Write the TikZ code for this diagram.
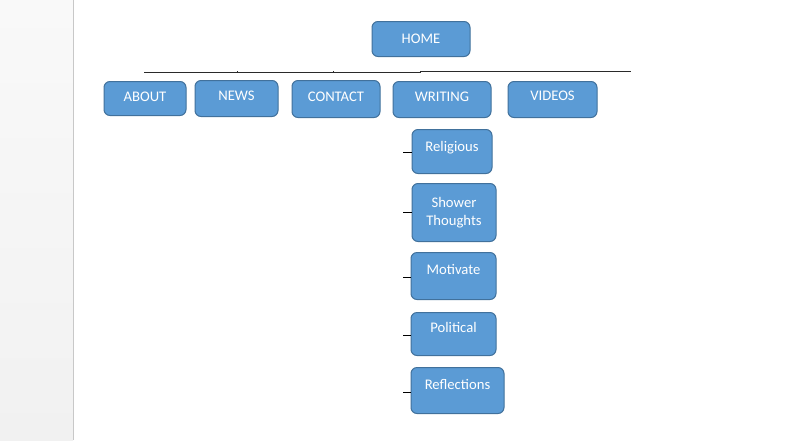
\documentclass[tikz,border=0pt]{standalone}
\usepackage{fontspec}
\setmainfont{Carlito}
\definecolor{boxfill}{HTML}{5B9BD5}
\definecolor{boxline}{HTML}{41719C}
\definecolor{busline}{HTML}{2A2A2A}
\definecolor{stripTop}{HTML}{F9F9F9}
\definecolor{stripBot}{HTML}{F1F1F1}
\definecolor{stripEdge}{HTML}{C8C8C8}
\tikzset{
  bx/.style={draw=boxline, fill=boxfill, line width=0.75pt, rounded corners=4.5pt,
    text=white, inner sep=0pt, align=center, anchor=north,
    font=\fontsize{11pt}{13.5pt}\selectfont},
  sz/.style n args={3}{minimum width=#1pt, text height=#2pt, text depth=#3pt},
  bus/.style={draw=busline, line width=0.75pt},
  stub/.style={draw=black, line width=0.75pt}
}
\begin{document}
\begin{tikzpicture}[x=0.75pt, y=-0.75pt]
\useasboundingbox (0,0) rectangle (803,440);
\fill[white] (0,0) rectangle (803,440);
\shade[top color=stripTop, bottom color=stripBot] (0,0) rectangle (73,440);
\draw[stripEdge, line width=0.75pt] (73.5,0) -- (73.5,440);

% top level
\node[bx, sz={73.5}{16.275}{9.975}] (home) at (421,21) {HOME};

% second level
\node[bx, sz={61.5}{15.3}{10.2}]     (about)   at (145,81)   {ABOUT};
\node[bx, sz={62.25}{15.3}{11.7}]    (news)    at (236.5,80) {NEWS};
\node[bx, sz={66}{15.525}{12.225}]   (contact) at (336,80)   {CONTACT};
\node[bx, sz={73.5}{15.3}{11.7}]     (writing) at (442,81)   {WRITING};
\node[bx, sz={66.75}{14.55}{12.45}]  (videos)  at (552.5,81) {VIDEOS};

% writing children
\node[bx, sz={60}{16.275}{16.725}]    (rel) at (452,129)   {Religious};
\node[bx, minimum width=63pt, minimum height=43.5pt] (show) at (454,183) {Shower\\Thoughts};
\node[bx, sz={63.75}{16.275}{18.975}] (mot) at (453.5,252) {Motivate};
\node[bx, sz={63.75}{14.775}{17.475}] (pol) at (453.5,312) {Political};
\node[bx, sz={69.75}{16.275}{18.225}] (ref) at (457.5,367) {Reflections};

% bus line
\coordinate (busL) at (144,72);
\coordinate (busM) at (420,72);
\coordinate (busN) at (420,71);
\coordinate (busR) at (631,71);
\draw[bus] (busL) -- (busM) -- (busN) -- (busR);
\draw[bus, line width=0.5pt] (237,72) -- (237,70.5);
\draw[bus, line width=0.5pt] (333,72) -- (333,70.5);

% stubs to children
\coordinate (s1) at (403,152);
\coordinate (s2) at (403,212);
\coordinate (s3) at (403,277);
\coordinate (s4) at (403,335);
\coordinate (s5) at (403,392);
\draw[stub] (s1) -- (s1 -| rel.west);
\draw[stub] (s2) -- (s2 -| show.west);
\draw[stub] (s3) -- (s3 -| mot.west);
\draw[stub] (s4) -- (s4 -| pol.west);
\draw[stub] (s5) -- (s5 -| ref.west);
\end{tikzpicture}
\end{document}
